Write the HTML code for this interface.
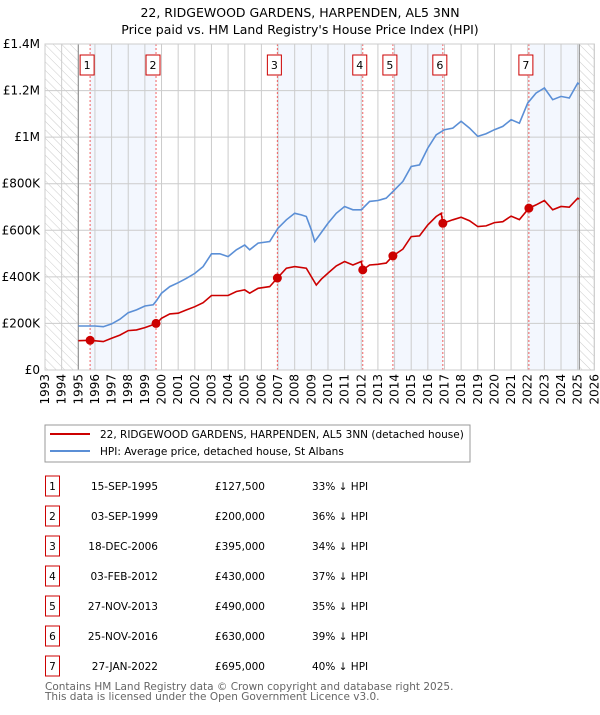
<!DOCTYPE html>
<html><head><meta charset="utf-8"><style>
body{margin:0;background:#fff;}
svg text{font-family:"DejaVu Sans","Liberation Sans",sans-serif;}
</style></head><body>
<svg id="c" width="600" height="710" xmlns="http://www.w3.org/2000/svg">
<defs><pattern id="hatch" width="6" height="6" patternUnits="userSpaceOnUse" patternTransform="rotate(-45)"><line x1="0" y1="0" x2="0" y2="6" stroke="#ccc" stroke-width="1"/></pattern></defs>
<text x="300" y="17" text-anchor="middle" font-size="12.5">22, RIDGEWOOD GARDENS, HARPENDEN, AL5 3NN</text>
<text x="300" y="34" text-anchor="middle" font-size="12.5">Price paid vs. HM Land Registry's House Price Index (HPI)</text>
<g id="plot"></g>
<rect x="45" y="425" width="425" height="37" fill="#fff" stroke="#999"/>
<line x1="50" y1="434" x2="90" y2="434" stroke="#cc0000" stroke-width="2"/>
<text x="100" y="438" font-size="10.5">22, RIDGEWOOD GARDENS, HARPENDEN, AL5 3NN (detached house)</text>
<line x1="50" y1="451" x2="90" y2="451" stroke="#5b8fd6" stroke-width="2"/>
<text x="100" y="455" font-size="10.5">HPI: Average price, detached house, St Albans</text>
<g id="table"></g>
<text x="45" y="690" font-size="10.5" fill="#666">Contains HM Land Registry data © Crown copyright and database right 2025.</text>
<text x="45" y="700" font-size="10.5" fill="#666">This data is licensed under the Open Government Licence v3.0.</text>
</svg>
<script>
const hpiYears=[1995.0,1996.0,1996.5,1997.0,1997.5,1998.0,1998.5,1999.0,1999.5,1999.7,2000.0,2000.5,2001.0,2001.5,2002.0,2002.5,2003.0,2003.5,2004.0,2004.5,2005.0,2005.3,2005.8,2006.5,2007.0,2007.5,2008.0,2008.4,2008.7,2009.0,2009.2,2009.5,2010.0,2010.5,2011.0,2011.5,2012.0,2012.5,2013.0,2013.5,2014.0,2014.5,2015.0,2015.5,2016.0,2016.5,2017.0,2017.5,2018.0,2018.5,2019.0,2019.5,2020.0,2020.5,2021.0,2021.5,2022.0,2022.5,2023.0,2023.5,2024.0,2024.5,2025.0,2025.1];
const hpiValues=[189,189,186,198,218,246,258,275,280,298,330,358,375,394,415,444,499,499,487,516,537,516,545,552,609,645,673,666,659,602,552,580,630,673,702,688,688,724,728,738,774,810,874,881,953,1010,1032,1039,1068,1039,1003,1015,1032,1046,1075,1060,1146,1189,1211,1161,1175,1168,1232,1228];
const redYears=[1995.0,1995.71,1996.5,1997.0,1997.5,1998.0,1998.5,1999.0,1999.71,2000.0,2000.5,2001.0,2001.5,2002.0,2002.5,2003.0,2003.5,2004.0,2004.5,2005.0,2005.3,2005.8,2006.5,2006.96,2007.5,2008.0,2008.7,2009.0,2009.3,2009.6,2010.0,2010.5,2011.0,2011.5,2012.0,2012.09,2012.5,2013.0,2013.5,2013.9,2014.5,2015.0,2015.5,2016.0,2016.5,2016.8,2016.9,2017.5,2018.0,2018.5,2019.0,2019.5,2020.0,2020.5,2021.0,2021.5,2022.07,2022.5,2023.0,2023.5,2024.0,2024.5,2025.0,2025.1];
const redValues=[126,127.5,122,136,150,169,172,182,200,222,241,244,258,272,289,320,320,320,337,344,330,351,358,395,437,444,437,401,365,390,416,447,466,451,466,430,451,454,459,490,519,573,576,623,659,673,630,645,656,641,616,619,633,637,661,646,695,709,728,688,702,699,738,734];
const saleLabels=["1","2","3","4","5","6","7"];
const saleYears=[1995.71,1999.67,2006.96,2012.09,2013.9,2016.9,2022.07];
const salePrices=[127.5,200,395,430,490,630,695];
const saleDates=["15-SEP-1995","03-SEP-1999","18-DEC-2006","03-FEB-2012","27-NOV-2013","25-NOV-2016","27-JAN-2022"];
const salePriceText=["£127,500","£200,000","£395,000","£430,000","£490,000","£630,000","£695,000"];
const saleHpiText=["33% ↓ HPI","36% ↓ HPI","34% ↓ HPI","37% ↓ HPI","35% ↓ HPI","39% ↓ HPI","40% ↓ HPI"];
const yTicks=[0,200,400,600,800,1000,1200,1400];
const yTickLabels=["£0","£200K","£400K","£600K","£800K","£1M","£1.2M","£1.4M"];
const xTicks=[1993,1994,1995,1996,1997,1998,1999,2000,2001,2002,2003,2004,2005,2006,2007,2008,2009,2010,2011,2012,2013,2014,2015,2016,2017,2018,2019,2020,2021,2022,2023,2024,2025,2026];

const NS="http://www.w3.org/2000/svg";
const X0=45,X1=594.3,Y0=370,Y1=44;
const xs=y=>X0+(y-1993)/(2026-1993)*(X1-X0);
const ys=v=>Y0-v/1400*(Y0-Y1);
function mk(tag,attrs,parent){const e=document.createElementNS(NS,tag);for(const k in attrs)e.setAttribute(k,attrs[k]);parent.appendChild(e);return e;}
const plot=document.getElementById('plot');
const bandEdges=saleYears.concat([2025.1]);
for(let i=0;i<bandEdges.length-1;i+=2){
  const r=mk('rect',{x:xs(bandEdges[i]),y:Y1,width:xs(bandEdges[i+1])-xs(bandEdges[i]),height:Y0-Y1,fill:'#eef3fd',opacity:0.7},plot);
  
  
}
let h=mk('rect',{x:X0,y:Y1,width:xs(1995)-X0,height:Y0-Y1,fill:'url(#hatch)'},plot);


h=mk('rect',{x:xs(2025.1),y:Y1,width:X1-xs(2025.1),height:Y0-Y1,fill:'url(#hatch)'},plot);


yTicks.forEach((t,i)=>{
  const l=mk('line',{x1:X0,x2:X1,y1:ys(t),y2:ys(t),stroke:'#ccc'},plot);
  
  
  const tx=mk('text',{x:40,y:ys(t)+4,'text-anchor':'end','font-size':12},plot);
  tx.textContent=yTickLabels[i];
  
  
});
xTicks.forEach(t=>{
  const l=mk('line',{x1:xs(t),x2:xs(t),y1:Y1,y2:Y0,stroke:'#ccc'},plot);
  
  
  const tx=mk('text',{x:0,y:0,'text-anchor':'end','font-size':12,transform:`translate(${xs(t)+4},374) rotate(-90)`},plot);
  tx.textContent=t;
  
  
});
let ax=mk('line',{x1:xs(1995),x2:xs(1995),y1:Y1,y2:Y0,stroke:'#888'},plot);


ax=mk('line',{x1:xs(2025.1),x2:xs(2025.1),y1:Y1,y2:Y0,stroke:'#888'},plot);


saleYears.forEach((s,i)=>{
  const l=mk('line',{x1:xs(s),x2:xs(s),y1:Y1,y2:Y0,stroke:'#f06060','stroke-dasharray':'2,2'},plot);
  
  
});
const path=(xa,va)=>xa.map((x,i)=>(i?'L':'M')+xs(x).toFixed(1)+','+ys(va[i]).toFixed(1)).join('');
const hp=mk('path',{d:path(hpiYears,hpiValues),fill:'none',stroke:'#5b8fd6','stroke-width':1.6},plot);


const rp=mk('path',{d:path(redYears,redValues),fill:'none',stroke:'#cc0000','stroke-width':1.6},plot);


saleYears.forEach((s,i)=>{
  const c=mk('circle',{cx:xs(s),cy:ys(salePrices[i]),r:4.5,fill:'#cc0000'},plot);
  
  
  const b=mk('rect',{x:xs(s)-10,y:55,width:14,height:20,fill:'#fff',stroke:'#cc0000'},plot);
  
  
  const t=mk('text',{x:xs(s)-3,y:69,'text-anchor':'middle','font-size':11},plot);
  t.textContent=saleLabels[i];
  
  
});
let pb=mk('rect',{x:X0,y:Y1,width:X1-X0,height:Y0-Y1,fill:'none',stroke:'#ccc'},plot);


const tb=document.getElementById('table');
const rowY=[486,516,546,576,606,636,666];
saleLabels.forEach((lab,i)=>{
  const y=rowY[i];
  const b=mk('rect',{x:45.5,y:y-10,width:14,height:20,fill:'#fff',stroke:'#cc0000'},tb);
  
  
  const n=mk('text',{x:52.5,y:y+4,'text-anchor':'middle','font-size':10.5},tb);
  n.textContent=lab;
  
  
  const d=mk('text',{x:158,y:y+4,'text-anchor':'end','font-size':10.5},tb);
  d.textContent=saleDates[i];
  
  
  const p=mk('text',{x:265,y:y+4,'text-anchor':'end','font-size':10.5},tb);
  p.textContent=salePriceText[i];
  
  
  const q=mk('text',{x:312,y:y+4,'font-size':10.5},tb);
  q.textContent=saleHpiText[i];
  
  
});
</script>
</body></html>
